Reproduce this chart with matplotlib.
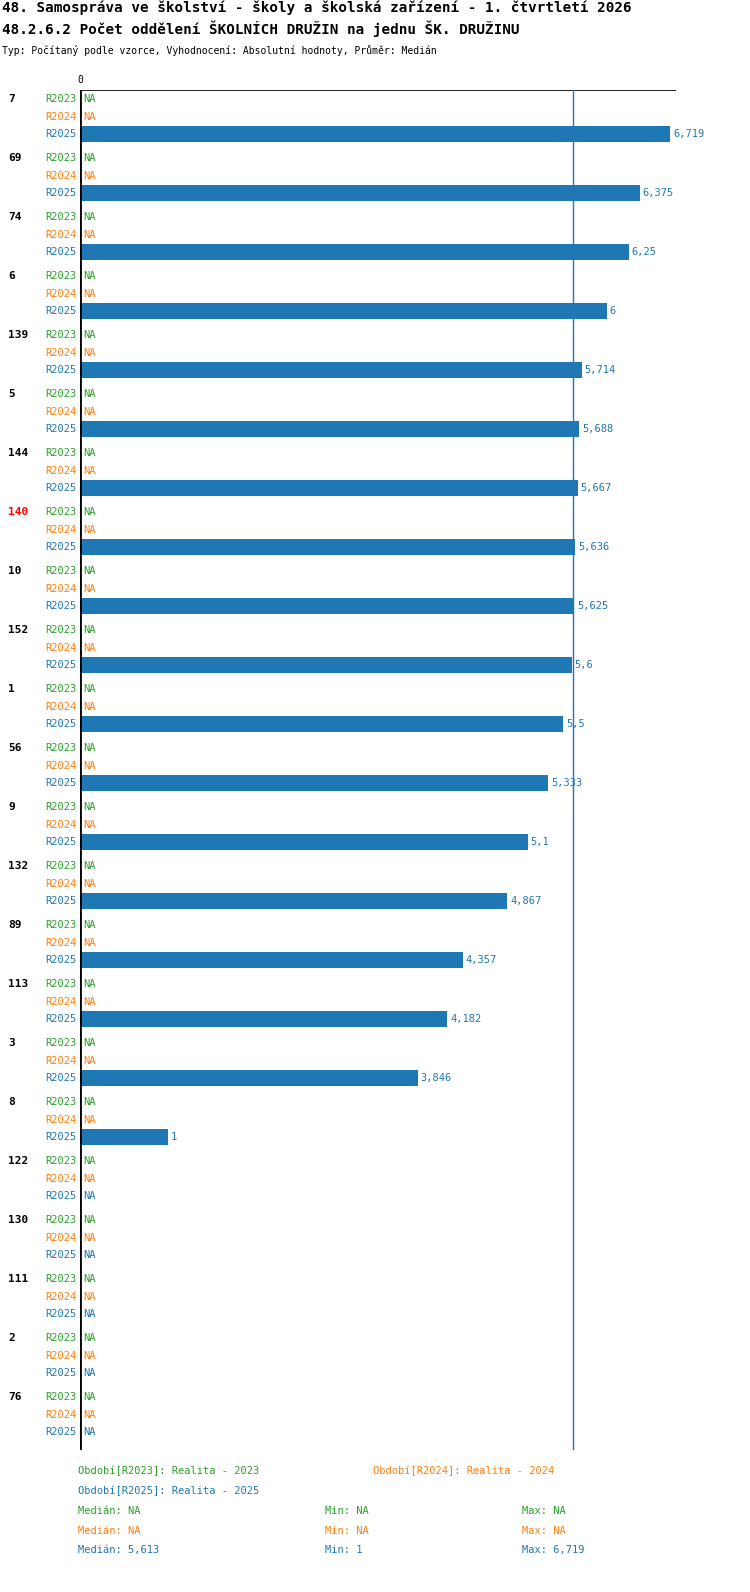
import matplotlib
matplotlib.use("Agg")
import matplotlib.pyplot as plt

plt.rcParams['font.family'] = ['DejaVu Sans Mono']

TITLE1 = "48. Samospráva ve školství - školy a školská zařízení - 1. čtvrtletí 2026"
TITLE2 = "48.2.6.2 Počet oddělení ŠKOLNÍCH DRUŽIN na jednu ŠK. DRUŽINU"
SUBTITLE = "Typ: Počítaný podle vzorce, Vyhodnocení: Absolutní hodnoty, Průměr: Medián"

groups = ["7", "69", "74", "6", "139", "5", "144", "140", "10", "152", "1", "56",
          "9", "132", "89", "113", "3", "8", "122", "130", "111", "2", "76"]
highlight = "140"
series = ["R2023", "R2024", "R2025"]
colors = ["#2ca02c", "#ff7f0e", "#1f77b4"]
r2025 = [6.719, 6.375, 6.25, 6, 5.714, 5.688, 5.667, 5.636, 5.625, 5.6, 5.5, 5.333,
         5.1, 4.867, 4.357, 4.182, 3.846, 1, None, None, None, None, None]
values = {"R2023": [None] * len(groups), "R2024": [None] * len(groups), "R2025": r2025}
median = 5.613

W, H = 750, 1592
fig = plt.figure(figsize=(W / 100, H / 100), dpi=100)

# axes in pixel rows: x from 80 to 676 px, y from 90 to 1450 px
ax = fig.add_axes([80 / W, 1 - 1450 / H, 596 / W, 1360 / H])
px = 87.8
ax.set_xlim(0, 596 / px)
ax.set_ylim(1450, 90)
ax.axis("off")
ax.axvline(0, color="black", lw=2)
ax.axhline(90, color="black", lw=1.2)
ax.axvline(median, color="#1f77b4", lw=1)

def fmt(v):
    return ("%g" % v).replace(".", ",")

for i, g in enumerate(groups):
    base = 99 + 59 * i
    fig.text(8 / W, 1 - base / H, g, fontsize=8, fontweight="bold",
             color="red" if g == highlight else "black", va="center")
    for k, s in enumerate(series):
        y = base + 17.6 * k
        fig.text(77 / W, 1 - y / H, s, fontsize=7.5, color=colors[k],
                 ha="right", va="center")
        v = values[s][i]
        if v is None:
            ax.text(3 / px, y, "NA", fontsize=7.5, color=colors[k], va="center")
        else:
            ax.barh(y, v, height=16, color=colors[k])
            ax.text(v + 3 / px, y, fmt(v), fontsize=7.5, color=colors[k], va="center")

fig.text(77 / W, 1 - 80 / H, "0", fontsize=7, va="center")
fig.text(2 / W, 1 - 8 / H, TITLE1, fontsize=10.3, fontweight="bold", va="center")
fig.text(2 / W, 1 - 29 / H, TITLE2, fontsize=10.3, fontweight="bold", va="center")
fig.text(2 / W, 1 - 50 / H, SUBTITLE, fontsize=7, va="center")

fig.text(78 / W, 1 - 1471 / H, "Období[R2023]: Realita - 2023", fontsize=7.5, color=colors[0], va="center")
fig.text(373 / W, 1 - 1471 / H, "Období[R2024]: Realita - 2024", fontsize=7.5, color=colors[1], va="center")
fig.text(78 / W, 1 - 1491 / H, "Období[R2025]: Realita - 2025", fontsize=7.5, color=colors[2], va="center")

stats = [("NA", "NA", "NA"), ("NA", "NA", "NA"), (fmt(median), "1", "6,719")]
for k, (md, mn, mx) in enumerate(stats):
    y = 1 - (1511 + 19.5 * k) / H
    fig.text(78 / W, y, "Medián: " + md, fontsize=7.5, color=colors[k], va="center")
    fig.text(325 / W, y, "Min: " + mn, fontsize=7.5, color=colors[k], va="center")
    fig.text(522 / W, y, "Max: " + mx, fontsize=7.5, color=colors[k], va="center")

fig.savefig("out.png", dpi=100)
